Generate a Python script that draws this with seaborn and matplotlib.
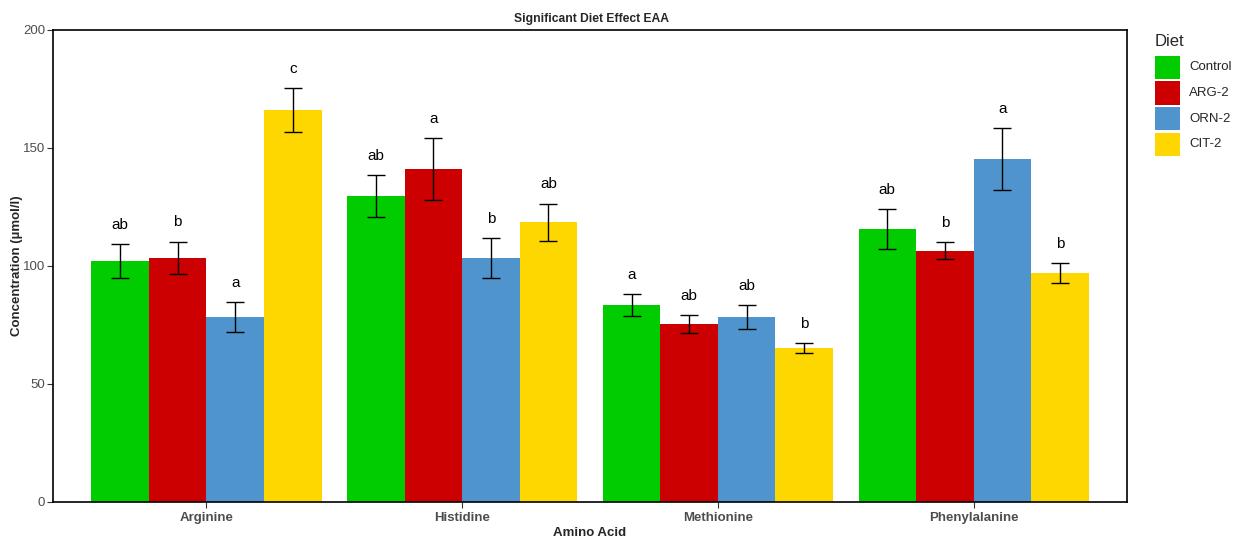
import pandas as pd
import numpy as np
import seaborn as sns
import matplotlib.pyplot as plt
from matplotlib.patches import Rectangle

amino_acids = ['Arginine', 'Histidine', 'Methionine', 'Phenylalanine']
diets = ['Control', 'ARG-2', 'ORN-2', 'CIT-2']

# mean concentration per diet (umol/l), same order as amino_acids
control = [102.1, 129.7, 83.5, 115.7]
arg2 = [103.4, 141.1, 75.4, 106.4]
orn2 = [78.4, 103.4, 78.4, 145.3]
cit2 = [166.1, 118.6, 65.3, 97.0]

# standard errors
control_se = [7.2, 8.9, 4.7, 8.5]
arg2_se = [6.9, 13.1, 3.8, 3.6]
orn2_se = [6.3, 8.3, 4.9, 13.1]
cit2_se = [9.3, 7.8, 2.1, 4.2]

# significance letters
control_sig = ['ab', 'ab', 'a', 'ab']
arg2_sig = ['b', 'a', 'ab', 'b']
orn2_sig = ['a', 'b', 'ab', 'a']
cit2_sig = ['c', 'ab', 'b', 'b']

colors = ['#00CC00', '#CC0000', '#4F94CD', '#FFD700']

rows = []
for diet, vals, ses, sigs in zip(diets, [control, arg2, orn2, cit2],
                                 [control_se, arg2_se, orn2_se, cit2_se],
                                 [control_sig, arg2_sig, orn2_sig, cit2_sig]):
    for aa, v, s, g in zip(amino_acids, vals, ses, sigs):
        rows.append({'Amino Acid': aa, 'Diet': diet, 'Conc': v, 'SE': s, 'Sig': g})
df = pd.DataFrame(rows)

sns.set_style('white')
plt.rcParams['font.family'] = ['Liberation Sans', 'DejaVu Sans']

W, H = 1247, 547
fig = plt.figure(figsize=(W / 100, H / 100), dpi=100)
ax = fig.add_axes([53 / W, 45 / H, 1074 / W, 472 / H])

sns.barplot(data=df, x='Amino Acid', y='Conc', hue='Diet', order=amino_acids,
            hue_order=diets, palette=colors, width=0.9, errorbar=None,
            saturation=1, ax=ax, legend=False)

# error bars and letters
for diet, cont in zip(diets, ax.containers):
    sub = df[df['Diet'] == diet].set_index('Amino Acid').loc[amino_acids]
    for bar, (_, r) in zip(cont.patches, sub.iterrows()):
        bar.set_linewidth(0)
        xc = bar.get_x() + bar.get_width() / 2
        ax.errorbar(xc, r['Conc'], yerr=r['SE'], fmt='none', ecolor='black',
                    elinewidth=1, capsize=6.5, capthick=1)
        ax.text(xc, r['Conc'] + r['SE'] + 6.5, r['Sig'], ha='center',
                va='baseline', fontsize=11, color='black')

ax.set_xlim(-0.6, 3.6)
ax.set_ylim(0, 200)
ax.set_yticks([0, 50, 100, 150, 200])
ax.tick_params(axis='both', length=4, color='#333333', width=0.8,
               labelcolor='#4D4D4D', labelsize=9.5, bottom=True, left=True)
ax.tick_params(axis='y', pad=1.5)
for lab in ax.get_xticklabels():
    lab.set_fontweight('bold')
for sp in ax.spines.values():
    sp.set_visible(True)
    sp.set_color('black')
    sp.set_linewidth(1.2)

ax.set_xlabel('Amino Acid', fontsize=9.5, fontweight='bold', labelpad=2)
ax.set_ylabel('Concentration (µmol/l)', fontsize=9.5, fontweight='bold')
ax.yaxis.set_label_coords((17 - 53) / 1074, 0.5)
ax.yaxis.label.set_va('center')
fig.text(592 / W, 1 - 19 / H, 'Significant Diet Effect EAA', ha='center',
         va='center', fontsize=8.7, fontweight='bold')

# legend drawn by hand in figure pixel positions
fig.text(1155 / W, 1 - 41 / H, 'Diet', ha='left', va='center', fontsize=12)
for i, (c, d) in enumerate(zip(colors, diets)):
    top = 56 + i * 25.5
    fig.add_artist(Rectangle((1155 / W, 1 - (top + 23) / H), 25 / W, 23 / H,
                             transform=fig.transFigure, facecolor=c,
                             edgecolor='none'))
    fig.text(1189 / W, 1 - (top + 11.5) / H, d, ha='left', va='center',
             fontsize=9.5)

fig.savefig('out.png', dpi=100)
